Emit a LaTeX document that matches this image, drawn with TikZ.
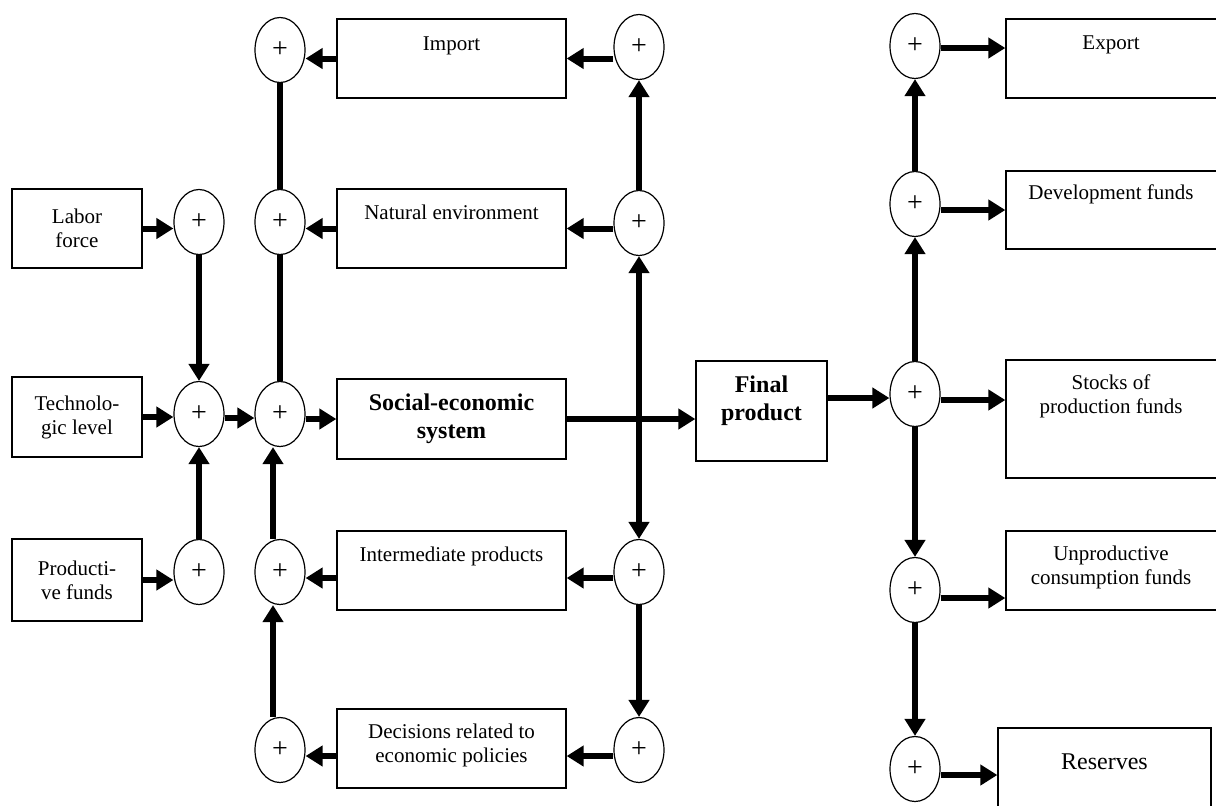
\documentclass[tikz,border=0pt]{standalone}
\usepackage{fontspec}
\setmainfont{Liberation Serif}
\usetikzlibrary{shapes.geometric,arrows.meta}
\begin{document}
\begin{tikzpicture}[x=0.5pt,y=-0.5pt,
  box/.style={draw,line width=0.65pt,rectangle,inner sep=0pt,align=center,font=\fontsize{10.5}{12}\selectfont},
  bbox/.style={box,font=\fontsize{12}{14}\bfseries\selectfont},
  sum/.style={draw,line width=0.6pt,ellipse,minimum width=25pt,minimum height=32.5pt,inner sep=0pt,font=\fontsize{14}{16}\selectfont},
  tl/.style={font=\fontsize{10.5}{12}\selectfont,align=center,anchor=base,inner sep=0pt},
  arr/.style={line width=3pt,-{Triangle[length=8.5pt,width=10pt]}},
  ln/.style={line width=3pt},
  dbl/.style={line width=3pt,{Triangle[length=8.5pt,width=10pt]}-{Triangle[length=8.5pt,width=10pt]}},
]
\useasboundingbox (0,0) rectangle (1216,805);
\clip (0,0) rectangle (1216,805);
% left input boxes
\node[box,minimum width=65pt,minimum height=39.5pt] (lab) at (77,228.5) {Labor\\force};
\node[box,minimum width=65pt,minimum height=40pt] (tec) at (77,417) {Technolo-\\gic level};
\node[box,minimum width=65pt,minimum height=41pt] (pro) at (77,580) {Producti-\\ve funds};
% left sums
\node[sum] (l1) at (199,222) {+};
\node[sum] (l2) at (199,414) {+};
\node[sum] (l3) at (199,572) {+};
% second column sums
\node[sum] (c1) at (280,50) {+};
\node[sum] (c2) at (280,222) {+};
\node[sum] (c3) at (280,414) {+};
\node[sum] (c4) at (280,572) {+};
\node[sum] (c5) at (280,750) {+};
% middle boxes
\node[box,minimum width=114.5pt,minimum height=39.5pt,label={[tl,yshift=-16pt]north:Import}] (imp) at (451.5,58.5) {};
\node[box,minimum width=114.5pt,minimum height=39.5pt,label={[tl,yshift=-15.5pt]north:Natural environment}] (nat) at (451.5,228.5) {};
\node[bbox,minimum width=114.5pt,minimum height=40pt] (soc) at (451.5,419) {Social-economic\\system};
\node[box,minimum width=114.5pt,minimum height=39.5pt,label={[tl,yshift=-15.5pt]north:Intermediate products}] (int) at (451.5,570.5) {};
\node[box,minimum width=114.5pt,minimum height=39.5pt,label={[tl,yshift=-27pt]north:Decisions related to\\economic policies}] (dec) at (451.5,748.5) {};
% right middle sums
\node[sum] (r1) at (639,47) {+};
\node[sum] (r2) at (639,223) {+};
\node[sum] (r4) at (639,572) {+};
\node[sum] (r5) at (639,750) {+};
% final product
\node[box,minimum width=65.5pt,minimum height=50pt,label={[tl,font=\fontsize{12}{14}\bfseries\selectfont,yshift=-30pt]north:Final\\product}] (fin) at (761.5,411) {};
% right sums
\node[sum] (e) at (915,46) {+};
\node[sum] (d) at (915,204) {+};
\node[sum] (s) at (915,394) {+};
\node[sum] (u) at (915,590) {+};
\node[sum] (rv) at (915,769) {+};
% right boxes
\node[box,minimum width=112pt,minimum height=39.5pt,label={[tl,xshift=-3.5pt,yshift=-15.5pt]north:Export}] (exb) at (1118,58.5) {};
\node[box,minimum width=112pt,minimum height=39pt,label={[tl,xshift=-3.5pt,yshift=-14.5pt]north:Development funds}] (devb) at (1118,210) {};
\node[box,minimum width=112pt,minimum height=59pt,label={[tl,xshift=-3.5pt,yshift=-27pt]north:Stocks of\\production funds}] (stb) at (1118,419) {};
\node[box,minimum width=112pt,minimum height=39.5pt,label={[tl,xshift=-3.5pt,yshift=-27pt]north:Unproductive\\consumption funds}] (unb) at (1118,570.5) {};
\node[box,minimum width=106.5pt,minimum height=46pt,label={[tl,font=\fontsize{12}{14}\selectfont,yshift=-21pt]north:Reserves}] (resb) at (1104.5,774) {};
% left connectors
\draw[arr] (lab.east) -- (lab.east -| l1.west);
\draw[arr] (tec.east) -- (tec.east -| l2.west);
\draw[arr] (pro.east) -- (pro.east -| l3.west);
\draw[arr] (l1.south) -- (l2.north);
\draw[arr] (l3.north) -- (l2.south);
\draw[arr] ([yshift=-2pt]l2.east) -- ([yshift=-2pt]c3.west);
\draw[arr] (soc.west -| c3.east) -- (soc.west);
% second column
\draw[ln] (c1.south) -- (c2.north);
\draw[ln] (c2.south) -- (c3.north);
\draw[arr] ([xshift=-3.5pt]c4.north) -- ([xshift=-3.5pt]c3.south);
\draw[arr] ([xshift=-3.5pt]c5.north) -- ([xshift=-3.5pt]c4.south);
\draw[arr] (imp.west) -- (imp.west -| c1.east);
\draw[arr] (nat.west) -- (nat.west -| c2.east);
\draw[arr] ([yshift=-3.75pt]int.west) -- ([yshift=-3.75pt]int.west -| c4.east);
\draw[arr] ([yshift=-3.75pt]dec.west) -- ([yshift=-3.75pt]dec.west -| c5.east);
% right middle column
\draw[arr] (imp.east -| r1.west) -- (imp.east);
\draw[arr] (nat.east -| r2.west) -- (nat.east);
\draw[arr] ([yshift=-3.75pt]int.east -| r4.west) -- ([yshift=-3.75pt]int.east);
\draw[arr] ([yshift=-3.75pt]dec.east -| r5.west) -- ([yshift=-3.75pt]dec.east);
\draw[arr] (r2.north) -- (r1.south);
\draw[dbl] (r2.south) -- (r4.north);
\draw[arr] (r4.south) -- (r5.north);
\draw[arr] (soc.east) -- (soc.east -| fin.west);
% right column
\draw[arr] ([yshift=-2pt]s.west -| fin.east) -- ([yshift=-2pt]s.west);
\draw[arr] (s.north) -- (d.south);
\draw[arr] (d.north) -- (e.south);
\draw[arr] (s.south) -- (u.north);
\draw[arr] (u.south) -- (rv.north);
\draw[arr] ([yshift=-1pt]e.east) -- ([yshift=-1pt]e.east -| exb.west);
\draw[arr] (devb.west -| d.east) -- (devb.west);
\draw[arr] ([yshift=-3pt]s.east) -- ([yshift=-3pt]s.east -| stb.west);
\draw[arr] ([yshift=-4pt]u.east) -- ([yshift=-4pt]u.east -| unb.west);
\draw[arr] ([yshift=-3pt]rv.east) -- ([yshift=-3pt]rv.east -| resb.west);
\end{tikzpicture}
\end{document}
